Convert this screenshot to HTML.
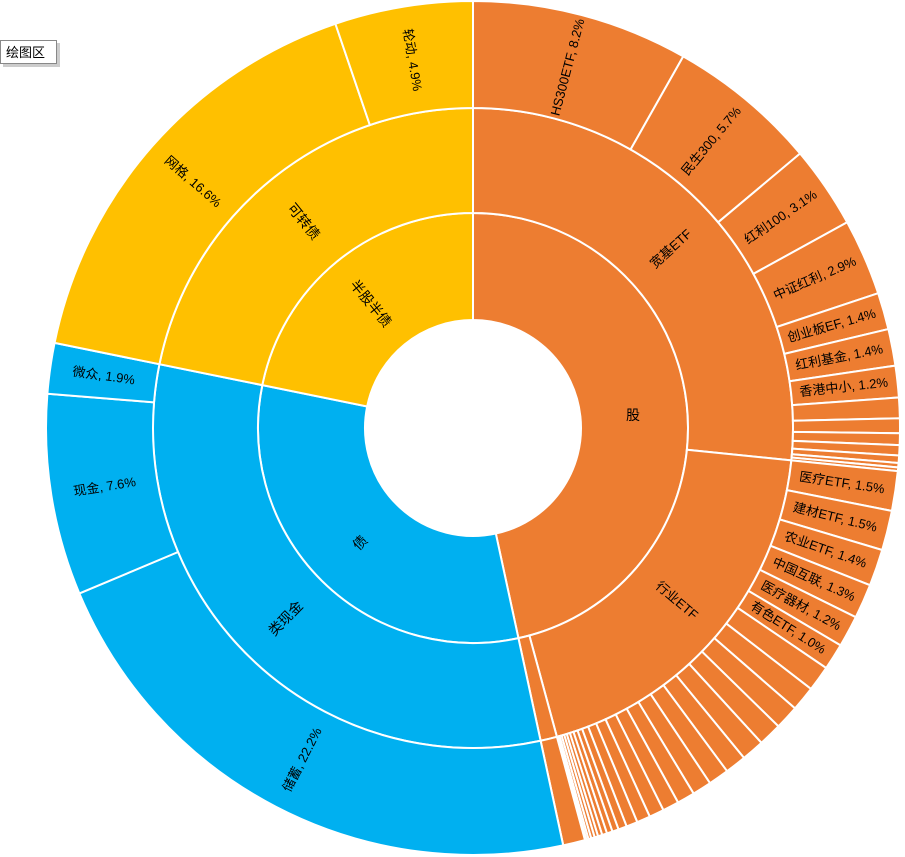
<!DOCTYPE html>
<html><head><meta charset="utf-8"><style>
html,body{margin:0;padding:0;background:#fff;width:905px;height:857px;overflow:hidden}
svg{display:block}
text{font-family:"Liberation Sans","Noto Sans CJK SC",sans-serif;font-size:13px;fill:#000}
</style></head><body>
<svg id="s" width="905" height="857" viewBox="0 0 905 857">
<g id="arcs"></g>
<rect x="0.5" y="40.5" width="56" height="23" fill="#fff" stroke="#888"/>
<rect x="57" y="43" width="3" height="23" fill="#ccc"/>
<rect x="3" y="64" width="57" height="3" fill="#ccc"/>
<text x="6" y="57" style="font-size:13px">绘图区</text>
<g text-anchor="middle">
<text transform="rotate(-75.25,473,428) translate(846,428)" y="4">HS300ETF, 8.2%</text>
<text transform="rotate(-50.25,473,428) translate(846,428)" y="4">民生300, 5.7%</text>
<text transform="rotate(-34.4,473,428) translate(846,428)" y="4">红利100, 3.1%</text>
<text transform="rotate(-23.6,473,428) translate(846,428)" y="4">中证红利, 2.9%</text>
<text transform="rotate(-15.9,473,428) translate(846,428)" y="4">创业板EF, 1.4%</text>
<text transform="rotate(-10.9,473,428) translate(846,428)" y="4">红利基金, 1.4%</text>
<text transform="rotate(-6.25,473,428) translate(846,428)" y="4">香港中小, 1.2%</text>
<text transform="rotate(8.5,473,428) translate(846,428)" y="4">医疗ETF, 1.5%</text>
<text transform="rotate(13.9,473,428) translate(846,428)" y="4">建材ETF, 1.5%</text>
<text transform="rotate(19.1,473,428) translate(846,428)" y="4">农业ETF, 1.4%</text>
<text transform="rotate(24,473,428) translate(846,428)" y="4">中国互联, 1.3%</text>
<text transform="rotate(28.5,473,428) translate(846,428)" y="4">医疗器材, 1.2%</text>
<text transform="rotate(32.4,473,428) translate(846,428)" y="4">有色ETF, 1.0%</text>
<text transform="rotate(117.2,473,428) translate(846,428) rotate(180)" y="4">储蓄, 22.2%</text>
<text transform="rotate(170.9,473,428) translate(846,428) rotate(180)" y="4">现金, 7.6%</text>
<text transform="rotate(188,473,428) translate(846,428) rotate(180)" y="4">微众, 1.9%</text>
<text transform="rotate(221.3,473,428) translate(846,428) rotate(180)" y="4">网格, 16.6%</text>
<text transform="rotate(260.6,473,428) translate(846,428) rotate(180)" y="4">轮动, 4.9%</text>
<text transform="rotate(-42.1,473,428) translate(740,428)" y="4">宽基ETF</text>
<text transform="rotate(40.3,473,428) translate(740,428)" y="4">行业ETF</text>
<text transform="rotate(134.6,473,428) translate(740,428) rotate(180)" y="5" style="font-size:14px">类现金</text>
<text transform="rotate(230.7,473,428) translate(740,428) rotate(180)" y="5" style="font-size:14px">可转债</text>
<text x="633" y="420" style="font-size:14px">股</text>
<text transform="rotate(134.6,473,428) translate(634,428) rotate(180)" y="5" style="font-size:14px">债</text>
<text transform="rotate(230.7,473,428) translate(634,428) rotate(180)" y="5" style="font-size:14px">半股半债</text>
</g>
</svg>
<script>
var cx=473,cy=428,O='#ED7D31',B='#00B0F0',Y='#FFC000';
function pt(r,a){a=a*Math.PI/180;return [cx+r*Math.sin(a),cy-r*Math.cos(a)];}
function arc(r0,r1,a0,a1,c){var l=(a1-a0)>180?1:0,p1=pt(r1,a0),p2=pt(r1,a1),p3=pt(r0,a1),p4=pt(r0,a0);
return '<path d="M'+p1+' A'+r1+','+r1+' 0 '+l+' 1 '+p2+' L'+p3+' A'+r0+','+r0+' 0 '+l+' 0 '+p4+'Z" fill="'+c+'" stroke="#fff" stroke-width="2"/>';}
var h='';
h+=arc(108,215,0,167.8,O)+arc(108,215,167.8,281.5,B)+arc(108,215,281.5,360,Y);
h+=arc(215,320,0,95.8,O)+arc(215,320,95.8,164.8,O)+arc(215,320,164.8,167.8,O)+arc(215,320,167.8,281.5,B)+arc(215,320,281.5,360,Y);
var s=[29.5,20.5,11.2,10.4,5,5,4.3,2.8,2.0,1.6,1.4,1.0,0.6,0.5,5.4,5.4,5,4.7,4.3,3.6];
var t=[3.6,3.5,3.4,3.3,3.2,3,2.9,2.7,2.5,2.3,2.1,1.9,1.6,1.2,0.9,0.8,0.7,0.6,0.5,0.5,0.4,0.3,0.2];
var a=0;s.forEach(function(d){h+=arc(320,427,a,a+d,O);a+=d;});
var tot=t.reduce(function(x,y){return x+y},0),k=(164.8-a)/tot;
t.forEach(function(d){h+=arc(320,427,a,a+d*k,O);a+=d*k;});
h+=arc(320,427,164.8,167.8,O);
h+=arc(320,427,167.8,247.2,B)+arc(320,427,247.2,274.6,B)+arc(320,427,274.6,281.5,B);
h+=arc(320,427,281.5,341.2,Y)+arc(320,427,341.2,360,Y);
document.getElementById('arcs').innerHTML=h;
</script>
</body></html>
